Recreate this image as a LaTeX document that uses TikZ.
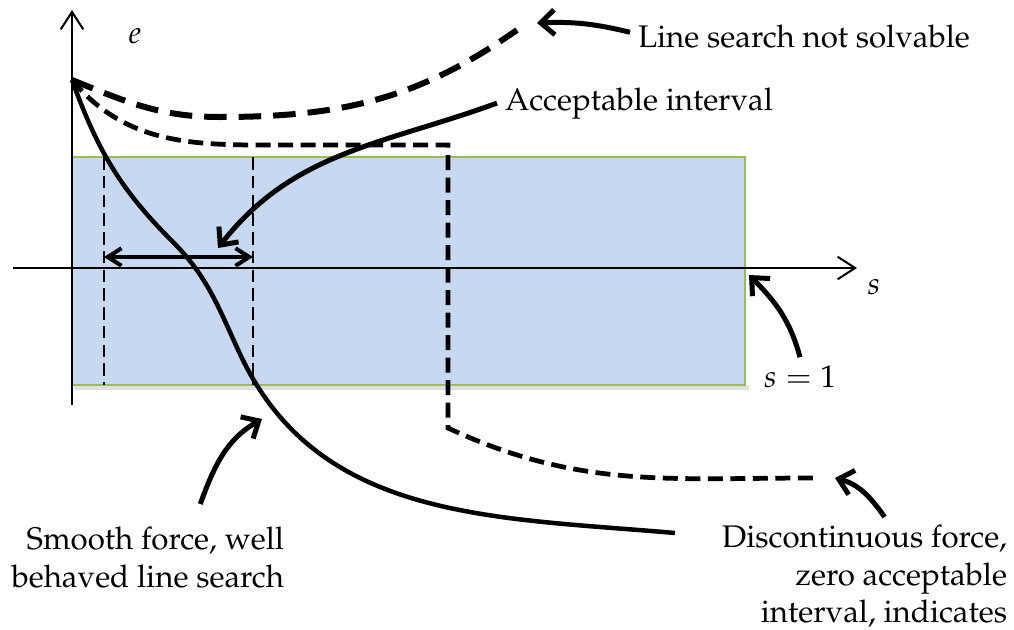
\documentclass[tikz,border=0pt]{standalone}
\usepackage[T1]{fontenc}
\usepackage{mathpazo}
\usetikzlibrary{arrows.meta}
\definecolor{boxfill}{HTML}{C6D9F1}
\definecolor{boxedge}{HTML}{9BBB59}

\begin{document}
\begin{tikzpicture}[x= 0.4pt, y= 0.4pt,
	every node/.style= {font= \fontsize{12.5}{15}\selectfont, inner sep= 3pt},
	axis/.style= {line width= 0.8pt, -{Straight Barb[length= 7pt, width= 9pt]}},
	callout/.style= {line width= 2pt, -{Straight Barb[length= 5.5pt, width= 10pt]}},
	interval/.style= {line width= 1.6pt, {Straight Barb[length= 5.5pt, width= 7pt]}-{Straight Barb[length= 5.5pt, width= 7pt]}},
	curve/.style= {line width= 1.8pt},
	bigdash/.style= {line width= 2.4pt, dash pattern= on 9pt off 4.8pt},
	middash/.style= {line width= 1.9pt, dash pattern= on 6pt off 3pt},
	thindash/.style= {line width= 0.8pt, dash pattern= on 5pt off 2.5pt}]
\useasboundingbox (0, 0) rectangle (1014, 629);
% s < 1
	\fill[black, opacity= 0.12] (74, 239) rectangle (749, 244); % shadow
	\fill[boxfill] (72, 244) rectangle (745, 472);
	\draw[boxedge, line width= 1pt] (72, 472)-- (745, 472)-- (745, 244)-- (72, 244);
	\draw[thindash] (104, 472)-- (104, 244);
	\draw[thindash] (253, 472)-- (253, 244);
% axes
	\draw[axis] (13, 361)-- (857, 361);
	\draw[axis] (72, 224)-- (72, 619);
	\node (eLab) at (135, 593) {$e$};
	\node (sLab) at (874, 342) {$s$};
% curves
	\coordinate (E0) at (72, 549);
	\draw[bigdash] (E0) to [out= -22, in= 180] (220, 512) to [out= 0, in= -145] (517, 599); % not solvable
	\draw[middash] (E0) to [out= -50, in= 180] (260, 484)-- (448, 484)-- (448, 201) to [out= -25, in= 180] (813, 151); % discontinuous
	\draw[curve] (E0) to [out= -70, in= 135] (172, 388) to [out= -45, in= 115] (240, 275) to [out= -65, in= 175] (675, 96); % smooth
	\draw[interval] (104, 372)-- (253, 372);
% labels
	\node[anchor= base west] (lsLab) at (630, 582) {Line search not solvable};
	\node[anchor= base west] (accLab) at (497, 519) {Acceptable interval};
	\node[anchor= base] (s1Lab) at (800, 242) {$s=1$};
	\node[anchor= north east, align= right] (discLab) at (1015, 112) {Discontinuous force,\\ zero acceptable\\ interval, indicates};
	\node[anchor= north east, align= right] (smoothLab) at (292, 110) {Smooth force, well\\ behaved line search};
% callouts
	\coordinate (lsTip) at (537, 606);
	\coordinate (accTip) at (218, 381);
	\coordinate (s1Tip) at (749, 354);
	\coordinate (discTip) at (835, 151);
	\coordinate (smoothTip) at (262, 210);
	\draw[callout] ([yshift= 1.5pt]lsLab.west) to [bend right= 8] (lsTip);
	\draw[callout] (accLab.west) to [out= 200, in= 52] (accTip);
	\draw[callout] (s1Lab.north) to [out= 105, in= -45] (s1Tip);
	\draw[callout] ([xshift= 8pt]discLab.north) to [out= 125, in= -15] (discTip);
	\draw[callout] ([xshift= 21pt, yshift= 6pt]smoothLab.north) to [out= 70, in= -150] (smoothTip);
\end{tikzpicture}
\end{document}
